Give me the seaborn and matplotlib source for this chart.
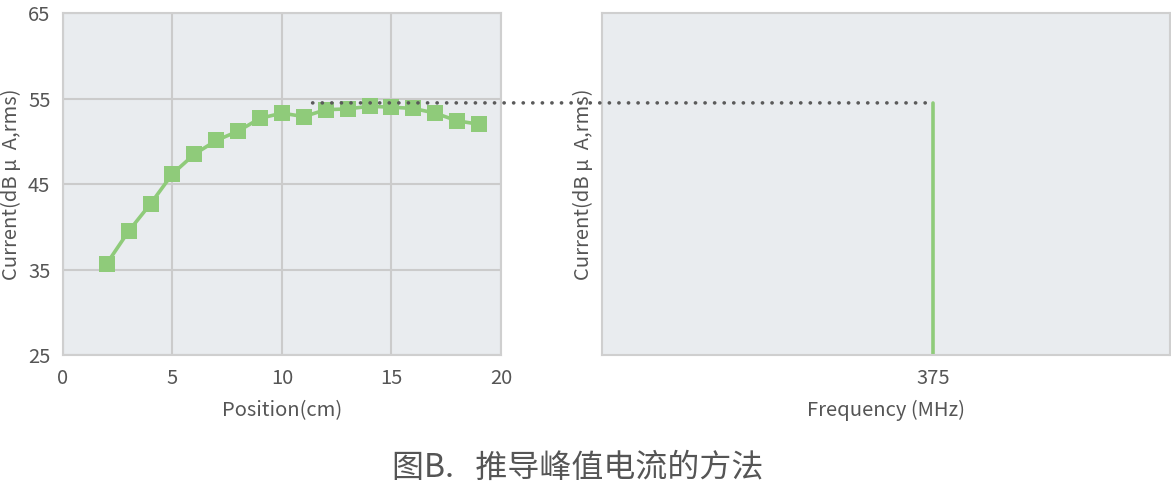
import matplotlib
matplotlib.use("Agg")
import matplotlib.pyplot as plt
import seaborn as sns
import pandas as pd
from matplotlib.patches import ConnectionPatch

# Data
positions = [2, 3, 4, 5, 6, 7, 8, 9, 10, 11, 12, 13, 14, 15, 16, 17, 18, 19]
currents = [35.7, 39.5, 42.7, 46.2, 48.5, 50.1, 51.2, 52.7, 53.3, 52.9, 53.7,
            53.8, 54.1, 54.0, 53.85, 53.3, 52.4, 52.0]
peak_level = 54.5
peak_start_pos = 11.4
peak_freq = [375]
peak_current = [54.5]
x_ticks_left = [0, 5, 10, 15, 20]
y_ticks = [25, 35, 45, 55, 65]
freq_ticks = [375]

sns.set_theme(style="darkgrid")
plt.rcParams['font.family'] = ['Noto Sans CJK SC', 'DejaVu Sans']

BG = "#E9ECEF"
GRID = "#CBCBCB"
GREEN = "#8FCB7A"
TXT = "#555555"
YLABEL = "Current(dB μ  A,rms)"

fig = plt.figure(figsize=(11.71, 4.87), dpi=100)
ax1 = fig.add_axes([0.0538, 0.271, 0.374, 0.702])
ax2 = fig.add_axes([0.514, 0.271, 0.485, 0.702])

df = pd.DataFrame({"Position": positions, "Current": currents})
sns.lineplot(data=df, x="Position", y="Current", ax=ax1, color=GREEN,
             marker="s", markersize=12, markeredgewidth=0, linewidth=2.6)

for ax in (ax1, ax2):
    ax.set_facecolor(BG)
    ax.set_ylim(25, 65)
    for s in ax.spines.values():
        s.set_visible(True)
        s.set_color("#CFCFCF")
        s.set_linewidth(1.5)
    ax.tick_params(colors=TXT, labelsize=14.5, length=0, pad=9)

ax1.set_xlim(0, 20)
ax1.set_xticks(x_ticks_left)
ax1.set_yticks(y_ticks)
ax1.grid(True, color=GRID, linewidth=1.5)
ax1.set_xlabel("Position(cm)", color=TXT, fontsize=14.5, labelpad=8)
ax1.set_ylabel(YLABEL, color=TXT, fontsize=14.5, labelpad=4)

# right panel
freq_df = pd.DataFrame({"Frequency": peak_freq * 2, "Current": [25] + peak_current})
sns.lineplot(data=freq_df, x="Frequency", y="Current", ax=ax2, color=GREEN,
             linewidth=2.6, estimator=None, sort=False)
ax2.set_xlim(0, 643)
ax2.set_xticks(freq_ticks)
ax2.set_yticks([])
ax2.grid(False)
ax2.set_xlabel("Frequency (MHz)", color=TXT, fontsize=14.5, labelpad=8)
ax2.set_ylabel(YLABEL, color=TXT, fontsize=14.5, labelpad=6)

con = ConnectionPatch(xyA=(peak_start_pos, peak_level), coordsA=ax1.transData,
                      xyB=(peak_freq[0], peak_level), coordsB=ax2.transData,
                      linestyle=(0, (0.05, 2.6)), color="#5A5A5A", linewidth=2.6,
                      capstyle="round")
fig.add_artist(con)

fig.text(0.493, 0.039, "图B.   推导峰值电流的方法", ha="center", va="center",
         fontsize=23, color=TXT)

fig.savefig("out.png", dpi=100, facecolor="white")
